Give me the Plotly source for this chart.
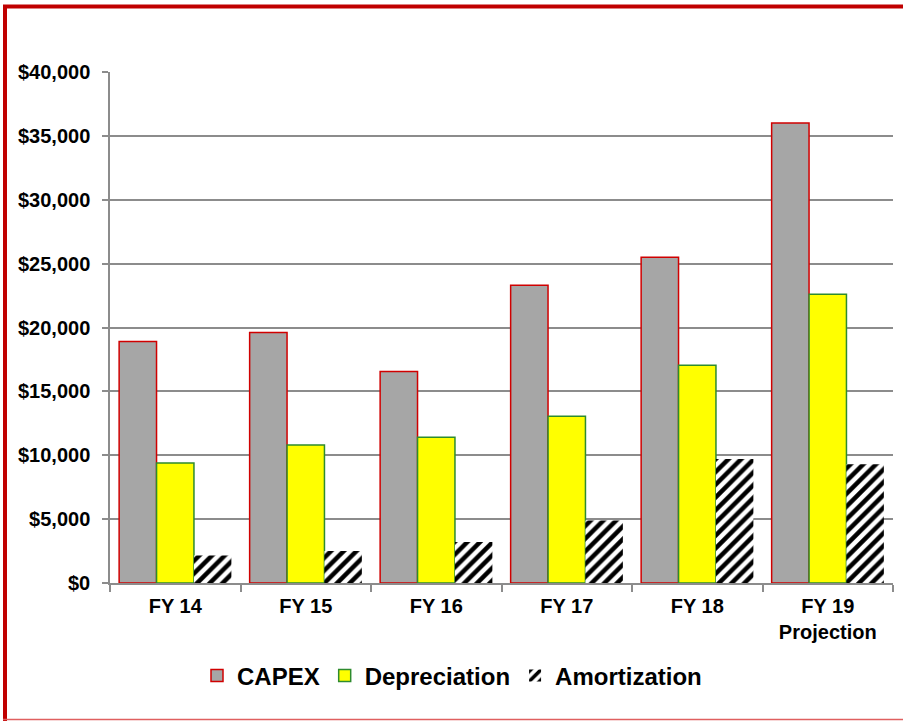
import plotly.graph_objects as go

categories = ["FY 14", "FY 15", "FY 16", "FY 17", "FY 18", "FY 19<br>Projection"]
capex = [18900, 19600, 16550, 23300, 25500, 36000]
depreciation = [9400, 10800, 11400, 13050, 17050, 22600]
amortization = [2150, 2500, 3200, 4900, 9700, 9300]
y_ticks = [0, 5000, 10000, 15000, 20000, 25000, 30000, 35000, 40000]
y_tick_labels = ["$0", "$5,000", "$10,000", "$15,000", "$20,000", "$25,000", "$30,000", "$35,000", "$40,000"]

FONT = "Liberation Sans, Arial, sans-serif"

fig = go.Figure()
fig.add_trace(go.Bar(
    name="CAPEX", x=categories, y=capex,
    marker=dict(color="#A6A6A6", line=dict(color="#D00000", width=1.5)),
))
fig.add_trace(go.Bar(
    name="Depreciation", x=categories, y=depreciation,
    marker=dict(color="#FFFF00", line=dict(color="#2E8B2E", width=1.5)),
))
fig.add_trace(go.Bar(
    name="Amortization", x=categories, y=amortization,
    marker=dict(color="white", line=dict(width=0),
                pattern=dict(shape="/", fgcolor="#000000", bgcolor="#FFFFFF",
                             fgopacity=1, size=9, solidity=0.5, fillmode="replace")),
))

L, R, T, B = 110, 10, 72, 138
W, H = 903, 721
pw, ph = W - L - R, H - T - B

def px(x):
    return (x - L) / pw

def py(y):
    return (H - B - y) / ph

shapes = [
    dict(type="line", xref="paper", yref="paper", x0=px(3), x1=px(903), y0=py(6.5), y1=py(6.5),
         line=dict(color="#C00000", width=4)),
    dict(type="line", xref="paper", yref="paper", x0=px(5), x1=px(5), y0=py(5), y1=py(721),
         line=dict(color="#C00000", width=4)),
    dict(type="line", xref="paper", yref="paper", x0=px(3), x1=px(903), y0=py(719.5), y1=py(719.5),
         line=dict(color="#E06060", width=1.5)),
]

fig.update_layout(
    width=W, height=H,
    margin=dict(l=L, r=R, t=T, b=B, pad=0),
    paper_bgcolor="white", plot_bgcolor="white",
    barmode="group", bargap=0.14, bargroupgap=0,
    font=dict(family=FONT, color="black"),
    showlegend=True,
    legend=dict(orientation="h", x=px(452), xanchor="center", y=py(676), yanchor="middle",
                font=dict(family=FONT, size=24, weight="bold"),
                itemwidth=30, tracegroupgap=0, bgcolor="rgba(0,0,0,0)"),
    shapes=shapes,
)
fig.update_xaxes(
    type="category", showline=True, linecolor="#8C8C8C", linewidth=1.5,
    ticks="outside", tickson="boundaries", ticklen=7, tickcolor="#8C8C8C", tickwidth=1.5,
    tickfont=dict(family=FONT, size=20, weight="bold"), showgrid=False,
    ticklabelstandoff=4,
)
fig.update_yaxes(
    range=[0, 40000], tickmode="array", tickvals=y_ticks, ticktext=y_tick_labels,
    showline=True, linecolor="#8C8C8C", linewidth=1.5,
    ticks="outside", ticklen=6, tickcolor="#8C8C8C", tickwidth=1.5,
    showgrid=True, gridcolor="#8C8C8C", gridwidth=1.8, zeroline=False,
    tickfont=dict(family=FONT, size=20, weight="bold"),
    ticklabelstandoff=8,
)

fig.write_html("out.html")
